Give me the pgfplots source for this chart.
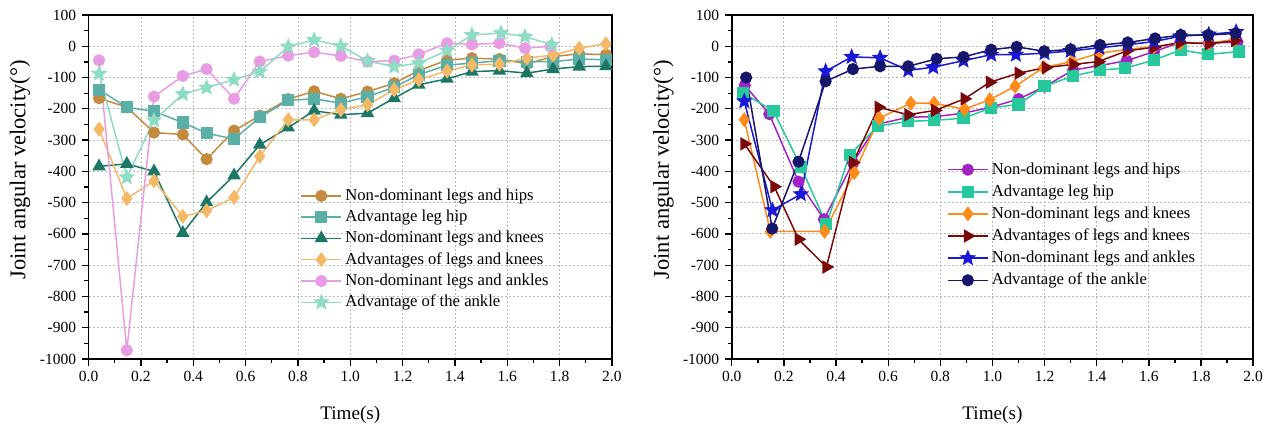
\documentclass[border=0pt]{standalone}
\usepackage{fontspec}
\setmainfont{Liberation Serif}
\usepackage{pgfplots}
\pgfplotsset{compat=1.18}

% filled five-point star
\pgfdeclareplotmark{fstar}{%
  \pgfpathmoveto{\pgfpointpolar{90}{1.35\pgfplotmarksize}}%
  \pgfpathlineto{\pgfpointpolar{126}{0.6\pgfplotmarksize}}%
  \pgfpathlineto{\pgfpointpolar{162}{1.35\pgfplotmarksize}}%
  \pgfpathlineto{\pgfpointpolar{198}{0.6\pgfplotmarksize}}%
  \pgfpathlineto{\pgfpointpolar{234}{1.35\pgfplotmarksize}}%
  \pgfpathlineto{\pgfpointpolar{270}{0.6\pgfplotmarksize}}%
  \pgfpathlineto{\pgfpointpolar{306}{1.35\pgfplotmarksize}}%
  \pgfpathlineto{\pgfpointpolar{342}{0.6\pgfplotmarksize}}%
  \pgfpathlineto{\pgfpointpolar{18}{1.35\pgfplotmarksize}}%
  \pgfpathlineto{\pgfpointpolar{54}{0.6\pgfplotmarksize}}%
  \pgfpathclose\pgfusepathqfillstroke}

\definecolor{cbrown}{HTML}{C48A3E}
\definecolor{cteal}{HTML}{5AAFA6}
\definecolor{cdteal}{HTML}{1C7767}
\definecolor{clorange}{HTML}{F5B866}
\definecolor{cpink}{HTML}{E89CE4}
\definecolor{cmint}{HTML}{8FDCC4}
\definecolor{cpurple}{HTML}{A223C4}
\definecolor{cgreen}{HTML}{27C99C}
\definecolor{corange}{HTML}{FF8C1A}
\definecolor{cdred}{HTML}{7A0A0A}
\definecolor{cblue}{HTML}{1A1AD6}
\definecolor{cnavy}{HTML}{16166A}

\pgfplotsset{
  velo/.style={
    scale only axis, height=206.4pt,
    xmin=0, xmax=2, ymin=-1000, ymax=100,
    xtick={0,0.2,0.4,0.6,0.8,1.0,1.2,1.4,1.6,1.8,2.0},
    ytick={-1000,-900,-800,-700,-600,-500,-400,-300,-200,-100,0,100},
    minor x tick num=1, minor y tick num=1,
    tick align=outside, tick pos=left,
    major tick length=4pt, minor tick length=2.5pt,
    every tick/.style={black, line width=0.8pt},
    axis line style={line width=0.9pt},
    grid=major,
    major grid style={gray!55, dash pattern=on 1.2pt off 1.2pt, line width=0.5pt},
    tick label style={font=\fontsize{9.3}{10}\selectfont},
    /pgf/number format/assume math mode=true,
    /pgf/number format/1000 sep={},
    xticklabel style={/pgf/number format/.cd, fixed, fixed zerofill, precision=1},
    xlabel={Time(s)}, ylabel={Joint angular velocity(°)},
    every axis x label/.style={at={(axis description cs:0.5,-0.163)}, anchor=center,
      font=\fontsize{11.5}{13}\selectfont},
    every axis y label/.style={at={(axis description cs:-0.131,0.55)}, rotate=90, anchor=center,
      font=\fontsize{13.5}{15}\selectfont},
    legend cell align=left,
    legend style={draw=none, fill=none, anchor=north west,
      font=\fontsize{10}{11.5}\selectfont, row sep=0.3pt},
    legend image code/.code={%
      \draw[mark repeat=2, mark phase=2, #1] plot coordinates {(0cm,0cm)(0.42cm,0cm)(0.84cm,0cm)};},
    every axis plot/.append style={line width=0.9pt, mark size=3.2pt},
  }
}

\begin{document}
\begin{tikzpicture}
\useasboundingbox (-53.16pt,-40.8pt) rectangle (709.44pt,215.4pt);

\begin{axis}[velo, width=314pt, at={(0pt,0pt)}, anchor=south west,
  legend style={at={(0.395,0.515)}}]
\addplot[color=cbrown, mark=*] coordinates {
(0.04,-166)(0.146,-195)(0.25,-276)(0.36,-282)(0.451,-361)(0.556,-270)(0.654,-222)
(0.763,-169)(0.862,-144)(0.964,-168)(1.066,-145)(1.168,-118)(1.262,-78)(1.37,-44)
(1.465,-38)(1.57,-41)(1.675,-56)(1.775,-33)(1.875,-24)(1.977,-27)};
\addlegendentry{Non-dominant legs and hips}
\addplot[color=cteal, mark=square*] coordinates {
(0.04,-139)(0.146,-195)(0.25,-208)(0.36,-244)(0.451,-278)(0.556,-297)(0.654,-227)
(0.763,-173)(0.862,-168)(0.964,-182)(1.066,-161)(1.168,-131)(1.262,-91)(1.37,-60)
(1.465,-54)(1.57,-46)(1.675,-49)(1.775,-49)(1.875,-41)(1.977,-43)};
\addlegendentry{Advantage leg hip}
\addplot[color=cdteal, mark=triangle*, mark size=3.8pt] coordinates {
(0.04,-384)(0.146,-376)(0.25,-400)(0.36,-597)(0.451,-499)(0.556,-413)(0.654,-315)
(0.763,-260)(0.862,-206)(0.964,-219)(1.066,-214)(1.168,-166)(1.262,-123)(1.37,-104)
(1.465,-81)(1.57,-78)(1.675,-86)(1.775,-73)(1.875,-65)(1.977,-64)};
\addlegendentry{Non-dominant legs and knees}
\addplot[color=clorange, mark=diamond*, mark size=3.8pt] coordinates {
(0.04,-265)(0.146,-487)(0.25,-430)(0.36,-544)(0.451,-526)(0.556,-483)(0.654,-352)
(0.763,-235)(0.862,-235)(0.964,-203)(1.066,-187)(1.168,-139)(1.262,-107)(1.37,-79)
(1.465,-60)(1.57,-57)(1.675,-38)(1.775,-28)(1.875,-6)(1.977,8)};
\addlegendentry{Advantages of legs and knees}
\addplot[color=cpink, mark=*] coordinates {
(0.04,-45)(0.146,-972)(0.25,-161)(0.36,-95)(0.451,-73)(0.556,-168)(0.654,-49)
(0.763,-30)(0.862,-19)(0.964,-31)(1.066,-49)(1.168,-46)(1.262,-26)(1.37,10)
(1.465,6)(1.57,10)(1.668,-6)(1.765,0)};
\addlegendentry{Non-dominant legs and ankles}
\addplot[color=cmint, mark=fstar, mark size=3pt] coordinates {
(0.04,-88)(0.146,-419)(0.25,-237)(0.36,-153)(0.451,-132)(0.556,-107)(0.654,-81)
(0.763,-1)(0.862,20)(0.964,1)(1.066,-47)(1.168,-65)(1.262,-54)(1.37,-14)
(1.465,36)(1.576,42)(1.668,31)(1.77,5)};
\addlegendentry{Advantage of the ankle}
\end{axis}

\begin{axis}[velo, width=312.8pt, at={(385.9pt,0pt)}, anchor=south west,
  legend style={at={(0.403,0.591)}, row sep=0.8pt}]
\addplot[color=cpurple, mark=*] coordinates {
(0.05,-125)(0.144,-217)(0.256,-433)(0.354,-553)(0.465,-372)(0.56,-249)(0.677,-227)
(0.78,-225)(0.889,-214)(0.993,-195)(1.1,-169)(1.2,-129)(1.31,-76)(1.41,-62)
(1.515,-46)(1.62,-17)(1.72,12)(1.83,10)(1.94,13)};
\addlegendentry{Non-dominant legs and hips}
\addplot[color=cgreen, mark=square*] coordinates {
(0.044,-150)(0.16,-207)(0.265,-385)(0.363,-569)(0.452,-348)(0.56,-255)(0.677,-240)
(0.776,-237)(0.889,-230)(0.995,-197)(1.1,-186)(1.2,-128)(1.31,-95)(1.413,-76)
(1.51,-70)(1.62,-44)(1.723,-12)(1.828,-26)(1.945,-17)};
\addlegendentry{Advantage leg hip}
\addplot[color=corange, mark=diamond*, mark size=3.8pt] coordinates {
(0.048,-235)(0.148,-592)(0.356,-592)(0.47,-404)(0.566,-230)(0.687,-182)(0.776,-182)
(0.893,-201)(0.99,-171)(1.087,-128)(1.196,-68)(1.304,-49)(1.41,-22)(1.517,-10)
(1.62,-1)(1.72,10)(1.83,10)(1.93,22)};
\addlegendentry{Non-dominant legs and knees}
\addplot[color=cdred, mark=triangle*, mark size=3.8pt, mark options={rotate=-90}] coordinates {
(0.048,-312)(0.163,-449)(0.256,-617)(0.363,-706)(0.465,-372)(0.563,-195)(0.677,-219)
(0.78,-205)(0.893,-168)(0.99,-115)(1.1,-86)(1.205,-68)(1.31,-58)(1.406,-49)
(1.515,-15)(1.62,-3)(1.72,12)(1.83,8)(1.93,18)};
\addlegendentry{Advantages of legs and knees}
\addplot[color=cblue, mark=fstar, mark size=3pt] coordinates {
(0.048,-176)(0.156,-524)(0.265,-473)(0.36,-80)(0.46,-34)(0.569,-37)(0.677,-77)
(0.773,-67)(0.889,-46)(0.995,-27)(1.09,-27)(1.2,-22)(1.3,-15)(1.41,-5)
(1.52,5)(1.62,15)(1.72,32)(1.83,38)(1.935,46)};
\addlegendentry{Non-dominant legs and ankles}
\addplot[color=cnavy, mark=*] coordinates {
(0.055,-100)(0.155,-583)(0.256,-369)(0.36,-112)(0.465,-73)(0.569,-64)(0.677,-64)
(0.786,-40)(0.889,-34)(0.995,-11)(1.093,-2)(1.199,-16)(1.3,-10)(1.413,4)
(1.519,12)(1.624,25)(1.723,36)(1.828,36)(1.933,41)};
\addlegendentry{Advantage of the ankle}
\end{axis}
\end{tikzpicture}
\end{document}
